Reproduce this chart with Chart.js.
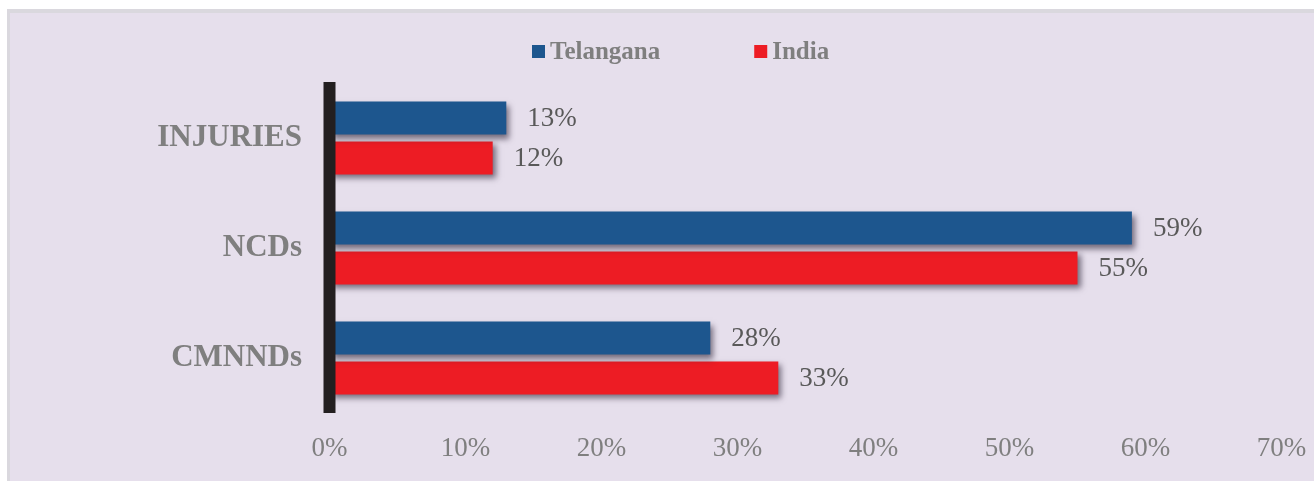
<!DOCTYPE html>
<html>
<head>
<meta charset="utf-8">
<title>Causes of death: Telangana vs India</title>
<script src="https://cdn.jsdelivr.net/npm/chart.js@4.4.1/dist/chart.umd.min.js"></script>
<style>
  html, body { margin: 0; padding: 0; background: #ffffff; overflow: hidden; }
  .panel {
    position: absolute; left: 7px; top: 9px; width: 1400px; height: 600px;
    background: #e6dfec; border-left: 3px solid #dad8de; border-top: 4px solid #dad8de;
  }
  .wrap { position: absolute; left: 0; top: 0; width: 1314px; height: 481px; }
</style>
</head>
<body>
<div class="panel"></div>
<div class="wrap"><canvas id="chart"></canvas></div>
<script>
const categories = ["INJURIES", "NCDs", "CMNNDs"];
const telangana = [13, 59, 28];
const india = [12, 55, 33];
const xTicks = [0, 10, 20, 30, 40, 50, 60, 70];

const BLUE = "#1d568e";
const RED = "#ed1c24";
const SERIF = "'Liberation Serif', 'Times New Roman', serif";

// soft drop shadow under the bars, values written after it is cleared,
// then the thick axis bar laid over the bar roots
const barShadow = {
  id: "barShadow",
  beforeDatasetsDraw(chart) {
    const ctx = chart.ctx;
    ctx.save();
    ctx.shadowColor = "rgba(40, 30, 50, 0.6)";
    ctx.shadowBlur = 6;
    ctx.shadowOffsetX = 3;
    ctx.shadowOffsetY = 4;
  },
  afterDatasetsDraw(chart) {
    const ctx = chart.ctx;
    const area = chart.chartArea;
    ctx.restore();
    ctx.save();
    ctx.fillStyle = "#231f20";
    ctx.fillRect(area.left - 6, area.top - 1, 12, area.bottom - area.top + 1);
    ctx.font = "27px " + SERIF;
    ctx.fillStyle = "#595959";
    ctx.textAlign = "left";
    ctx.textBaseline = "middle";
    chart.data.datasets.forEach((ds, i) => {
      chart.getDatasetMeta(i).data.forEach((bar, j) => {
        ctx.fillText(ds.data[j] + "%", bar.x + 21, bar.y + 1);
      });
    });
    ctx.restore();
  }
};

// legend row along the top
const topLegend = {
  id: "topLegend",
  afterDraw(chart) {
    const ctx = chart.ctx;
    ctx.save();
    ctx.font = "bold 25px " + SERIF;
    ctx.textBaseline = "alphabetic";
    let x = 532;
    chart.data.datasets.forEach(ds => {
      ctx.fillStyle = ds.backgroundColor;
      ctx.fillRect(x, 45, 13, 13);
      ctx.fillStyle = "#7f7f7f";
      ctx.fillText(ds.label, x + 18, 59);
      x += 18 + ctx.measureText(ds.label).width + 94;
    });
    ctx.restore();
  }
};

new Chart(document.getElementById("chart"), {
  type: "bar",
  data: {
    labels: categories,
    datasets: [
      { label: "Telangana", data: telangana, backgroundColor: BLUE },
      { label: "India", data: india, backgroundColor: RED }
    ]
  },
  options: {
    indexAxis: "y",
    responsive: true,
    maintainAspectRatio: false,
    animation: false,
    categoryPercentage: 0.727,
    barPercentage: 0.825,
    layout: { padding: { left: 0, top: 83, right: 32.5, bottom: 0 } },
    plugins: { legend: { display: false }, tooltip: { enabled: false } },
    scales: {
      x: {
        min: 0,
        max: 70,
        afterBuildTicks(scale) { scale.ticks = xTicks.map(v => ({ value: v })); },
        afterFit(scale) {
          scale.height = 68;
          // keep the tick padding from eating into the plot width
          scale.paddingLeft = 0;
          scale.paddingRight = 0;
        },
        grid: { display: false, drawTicks: false },
        border: { display: false },
        ticks: {
          padding: 20,
          color: "#7f7f7f",
          font: { family: SERIF, size: 27 },
          callback: v => v + "%"
        }
      },
      y: {
        afterFit(scale) { scale.width = 329.5; },
        grid: { display: false, drawTicks: false },
        border: { display: false },
        ticks: {
          padding: 27.5,
          color: "#7f7f7f",
          font: { family: SERIF, size: 31, weight: "bold" }
        }
      }
    }
  },
  plugins: [barShadow, topLegend]
});
</script>
</body>
</html>
